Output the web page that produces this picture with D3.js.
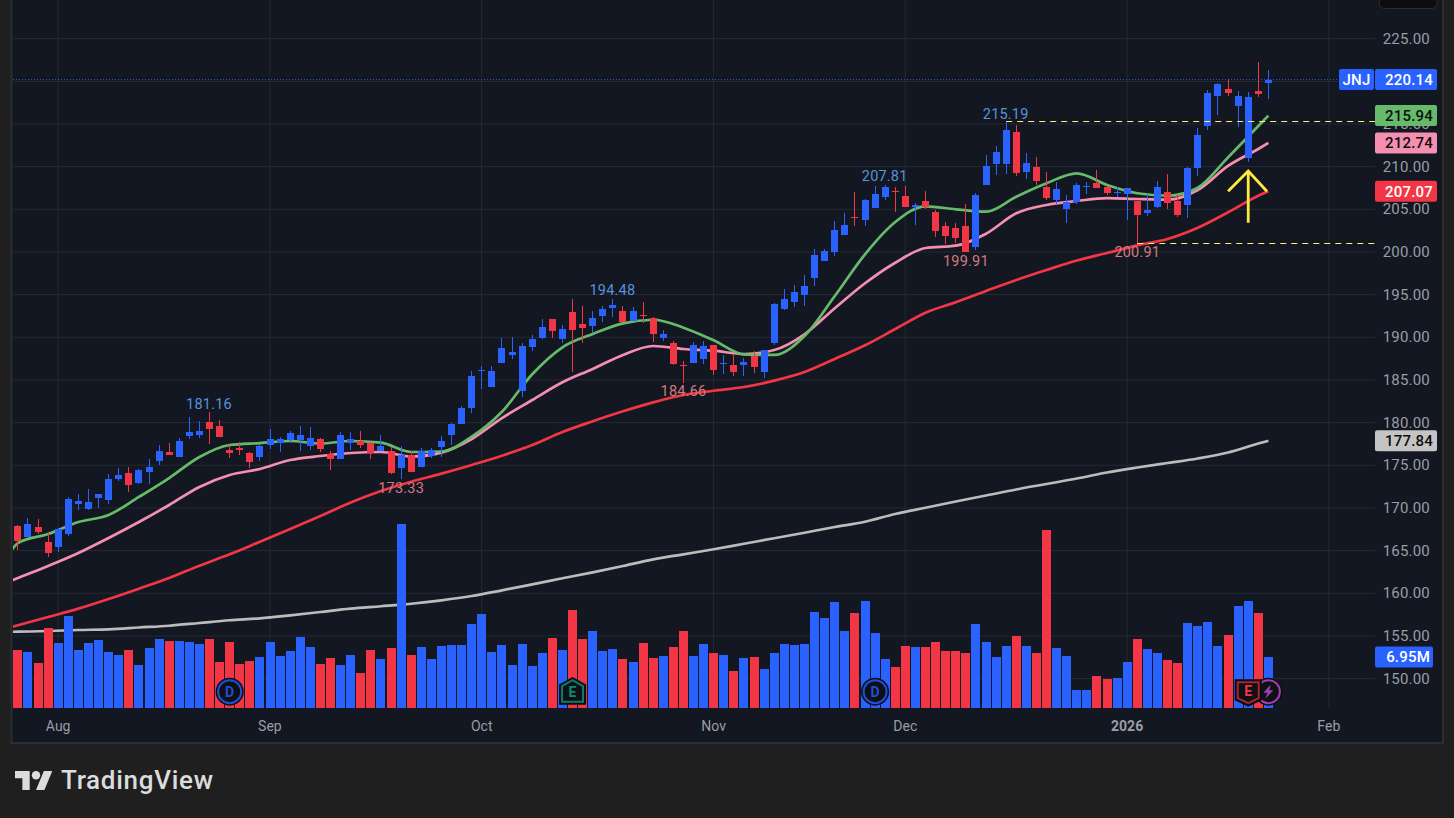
<!DOCTYPE html>
<html>
<head>
<meta charset="utf-8">
<script src="https://cdn.jsdelivr.net/npm/d3@7"></script>
<style>
html,body{margin:0;padding:0;background:#1f1f1f;overflow:hidden}
svg{display:block}
text{font-family:Roboto,"Liberation Sans",sans-serif}
.price-axis path,.time-axis path{display:none}
.price-axis line,.time-axis line{stroke:#252933;stroke-width:1}
.price-axis text,.time-axis text{fill:#9a9da6}
</style>
</head>
<body>
<svg id="chart" width="1454" height="818"></svg>
<script>
const symbol = "JNJ";
const opens = [
167.84,166.55,167.73,165.97,165.38,166.91,170.42,169.84,171.12,170.89,
173.35,174.05,172.88,174.17,175.46,176.52,175.93,178.39,178.51,180.03,
179.56,176.75,176.99,176.40,175.93,177.34,177.57,177.93,177.93,177.22,
178.04,176.28,175.70,177.57,177.81,177.57,176.63,176.63,174.64,176.17,
174.76,176.05,177.10,178.51,179.80,181.67,186.01,184.14,186.95,187.89,
183.67,188.82,189.88,192.11,189.76,192.93,191.52,191.29,192.46,193.39,
193.04,191.87,192.57,192.22,189.88,189.29,186.71,186.95,187.42,189.06,
186.83,186.71,186.71,187.77,185.89,189.29,193.28,194.10,194.92,196.91,
198.90,199.96,201.95,204.06,203.71,205.11,206.40,207.10,206.52,205.27,
205.93,204.64,203.00,202.77,203.00,200.55,207.81,210.27,210.27,214.02,
209.33,209.92,207.57,206.05,205.00,205.82,207.57,208.04,207.57,206.87,
206.75,205.93,204.53,205.23,206.99,205.93,205.46,209.80,214.72,218.24,
219.06,217.07,210.97,218.83,219.76];
const highs = [
167.96,168.78,168.67,167.10,167.61,171.24,171.59,172.18,171.59,173.94,
174.64,174.76,174.52,175.70,177.34,177.57,178.16,180.62,180.15,181.16,
180.27,177.34,177.69,176.52,177.34,179.21,178.27,178.98,179.56,179.45,
178.16,176.63,178.86,178.86,178.98,177.69,178.51,177.10,177.22,176.63,
176.99,176.99,178.39,179.92,181.91,186.01,186.60,186.60,189.88,189.99,
189.29,190.23,192.11,192.11,191.40,194.45,193.63,193.04,193.63,194.48,
193.63,193.51,194.10,192.34,190.82,189.53,187.18,189.41,189.53,189.06,
187.89,187.89,187.54,188.36,188.47,193.98,195.62,196.09,197.26,200.31,
200.31,203.59,204.53,206.99,206.17,207.70,207.81,207.57,207.70,205.70,
207.10,204.88,203.47,203.36,205.58,206.87,211.33,212.38,215.19,214.84,
211.56,211.09,209.33,208.16,206.64,208.04,208.16,209.57,207.69,207.57,
207.46,205.93,206.75,208.28,209.10,206.75,209.92,214.49,218.94,219.76,
220.23,218.83,218.71,222.22,221.29];
const lows = [
165.03,166.55,166.87,164.24,164.83,166.71,169.75,169.75,169.95,170.46,
173.12,171.86,172.76,172.76,175.00,176.17,175.93,178.04,178.16,177.46,
178.27,175.81,176.17,174.64,175.46,176.87,176.52,177.57,176.63,176.75,
176.52,174.41,175.70,176.75,176.99,175.70,176.63,173.94,173.33,174.17,
174.76,175.81,175.93,177.34,179.80,181.09,183.90,184.14,186.95,187.42,
182.97,188.36,189.76,189.88,189.29,185.89,189.29,190.47,191.76,192.34,
191.76,191.87,191.64,189.41,189.53,186.71,184.66,186.95,186.83,185.54,
185.66,185.43,185.43,185.78,185.19,189.06,193.16,193.51,193.63,195.97,
198.90,199.49,201.95,203.00,203.00,205.11,206.05,204.64,205.23,203.12,
205.00,201.72,200.90,201.01,199.91,200.19,207.81,208.98,209.10,208.86,
208.51,207.81,206.05,205.58,203.36,205.58,206.75,207.46,206.64,206.40,
203.71,200.91,204.18,205.11,205.00,204.06,203.94,208.86,214.25,216.01,
218.24,214.61,210.50,218.12,217.89];
const closes = [
166.09,168.08,167.10,164.72,167.49,171.01,170.77,170.66,171.59,173.35,
173.82,172.66,174.41,174.76,176.63,176.17,177.81,178.86,178.98,179.22,
178.27,176.40,176.79,175.35,177.22,178.04,178.04,178.74,178.51,178.16,
176.87,175.70,178.51,178.04,177.34,176.40,177.22,174.05,176.17,174.17,
176.63,176.75,177.81,179.80,181.67,185.43,186.13,186.01,188.71,188.24,
188.94,189.76,191.17,190.70,190.93,190.82,191.05,192.22,193.28,193.75,
191.76,193.04,192.46,190.35,190.35,186.83,186.60,189.06,188.94,186.13,
186.95,185.89,187.07,186.48,188.47,193.87,194.45,195.27,195.97,199.61,
200.07,202.53,203.12,203.94,206.05,206.75,207.57,206.99,205.23,205.46,
205.23,202.42,201.83,201.60,199.91,206.64,210.04,211.68,214.25,209.21,
210.39,208.28,206.29,207.34,205.82,207.81,207.69,207.46,206.87,206.99,
207.46,204.29,204.88,207.57,205.70,204.29,209.80,213.67,218.59,219.65,
218.59,218.24,218.12,218.47,220.14];
const volumes = [
7.91,7.64,6.14,10.91,8.86,12.55,7.91,8.86,9.27,7.64,
7.23,7.91,5.86,8.18,9.41,9.14,9.14,9.0,8.73,9.41,
6.27,9.0,6.0,6.41,6.95,9.0,7.09,7.77,9.68,8.32,
6.0,6.82,5.86,7.23,4.77,7.91,6.68,8.18,25.09,7.23,
8.32,6.68,8.45,8.59,8.59,11.45,12.82,7.64,8.59,5.86,
8.73,5.73,7.5,9.55,7.91,13.36,9.41,10.5,7.77,8.05,
6.68,6.27,8.86,6.82,7.09,8.32,10.5,7.09,8.73,7.5,
7.23,5.05,6.82,6.95,5.32,7.5,8.73,8.59,8.73,13.09,
12.27,14.45,10.5,12.95,14.59,10.23,6.68,5.59,8.45,8.32,
8.32,9.0,7.77,7.77,7.5,11.45,9.0,6.95,8.45,9.82,
8.45,7.5,24.27,8.18,7.09,2.45,2.45,4.36,3.95,4.09,
6.27,9.41,8.05,7.5,6.55,6.14,11.59,11.18,11.73,8.45,
9.95,13.91,14.59,12.95,6.95];

// Moving-average readings, taken every third bar off the picture
const maBars = [-1,0,3,6,9,12,15,18,21,24,27,30,33,36,39,42,45,48,51,54,57,60,63,66,69,72,75,78,81,84,87,90,93,96,99,102,105,108,111,114,117,120,123,124];
const maFast = [164.33,165.85,166.91,168.31,169.14,171.25,173.47,175.93,177.34,177.57,177.81,177.51,177.81,177.61,176.52,176.58,178.31,181.24,185.63,188.79,190.35,191.60,192.02,191.09,189.61,187.97,187.89,190.11,194.80,199.69,203.47,205.31,204.96,204.68,206.44,208.01,209.18,207.81,206.84,206.55,207.49,211.05,214.72,215.94];
const maMid = [161.28,161.75,163.16,164.68,166.44,168.31,170.31,172.42,173.82,174.53,175.58,176.05,176.40,176.52,175.99,176.44,178.04,180.50,182.61,184.69,186.25,187.89,188.94,188.59,188.39,188.00,188.47,190.31,193.36,196.29,198.70,200.43,200.70,202.10,204.49,205.47,205.93,206.28,206.17,206.09,207.22,210.04,212.03,212.74];
const maSlow = [155.89,156.21,157.18,158.16,159.29,160.50,161.75,163.20,164.53,166.01,167.50,169.02,170.60,171.95,173.04,173.98,175.00,176.09,177.34,178.86,180.12,181.29,182.34,183.20,183.70,184.14,184.88,185.89,187.42,189.02,190.93,192.84,194.06,195.39,196.68,197.85,198.96,199.84,200.74,201.48,202.80,204.61,206.55,207.07];
const maLong = [155.45,155.46,155.54,155.66,155.74,155.95,156.16,156.48,156.80,157.03,157.38,157.77,158.16,158.44,158.74,159.14,159.64,160.31,161.01,161.72,162.42,163.16,163.94,164.53,165.12,165.77,166.41,167.06,167.73,168.35,169.25,169.99,170.72,171.42,172.13,172.77,173.41,174.12,174.70,175.23,175.76,176.46,177.51,177.84];

const priceTicks = [150,155,160,165,170,175,180,185,190,195,200,205,210,215,225];
const monthBars = [4,25,46,69,88,110,130];
const monthLabels = ["Aug","Sep","Oct","Nov","Dec","2026","Feb"];

const highBars = [19,59,86,98];
const highValues = [181.16,194.48,207.81,215.19];
const lowBars = [38,66,94,111];
const lowValues = [173.33,184.66,199.91,200.91];

const levelBars = [98,111];
const levelValues = [215.19,200.91];

const arrowBars = [120,122,123.85];
const arrowPrices = [203.39,207.08,209.45];

const dividendBars = [21,85];
const earningsUpBars = [55];
const earningsDownBars = [122];
const splitBars = [124];

const lastVolume = 6.95;

// colours and layout
const BLUE="#2962ff", RED="#f23645", GREEN="#66bb6a", PINK="#f48fb1", GREY="#c4c4c4", GREYLINE="#bcbcbc", YEL="#ffeb3b";
const BG="#131722";
const L=13, R=1441, AXIS_X=1375, TOP=0, VOL_BASE=708, PANE_BOTTOM=742;

const x = d3.scaleLinear().domain([0,124]).range([17.9,1268.4]);
const y = d3.scaleLinear().domain([150,225]).range([678.3,38.3]);
const yVol = d3.scaleLinear().domain([0,25.09]).range([VOL_BASE,524]);
const px = i => Math.floor(x(i));

const svg = d3.select("#chart");
svg.append("rect").attr("width",1454).attr("height",818).attr("fill","#1f1f1f");
svg.append("rect").attr("x",L-1.5).attr("y",-3).attr("width",R-L+3.5).attr("height",PANE_BOTTOM+4)
  .attr("fill",BG).attr("stroke","#2b2d33").attr("stroke-width",2);

svg.append("clipPath").attr("id","plot").append("rect").attr("x",L).attr("y",0).attr("width",AXIS_X-L).attr("height",VOL_BASE);

// grid + axes
const priceAxis = d3.axisRight(y).tickValues(priceTicks).tickSize(AXIS_X-L).tickPadding(10).tickFormat(d3.format(".2f"));
const pa = svg.append("g").attr("class","price-axis").attr("transform",`translate(${L},0)`).call(priceAxis);
pa.selectAll("text").attr("font-size",15).attr("x",AXIS_X-L+55).attr("text-anchor","end").attr("letter-spacing",0.2);
pa.selectAll("line").attr("transform","translate(0,-0.2)");
// the 220 gridline stays, its label sits behind the last-price tag in the picture
pa.append("line").attr("x1",0).attr("x2",AXIS_X-L).attr("y1",Math.round(y(220))+0.5).attr("y2",Math.round(y(220))+0.5);

const timeAxis = d3.axisBottom(x).tickValues(monthBars).tickSize(VOL_BASE).tickPadding(10)
  .tickFormat((d,i)=>monthLabels[i]);
const ta = svg.append("g").attr("class","time-axis").attr("transform","translate(-0.6,0)").call(timeAxis);
ta.selectAll("text").attr("font-size",14).attr("y",VOL_BASE+13)
  .attr("font-weight",d=>d===110?700:400);

const plot = svg.append("g").attr("clip-path","url(#plot)");

// dotted last-price line
plot.append("line").attr("x1",L).attr("x2",AXIS_X).attr("y1",Math.floor(y(closes[124]))+0.5).attr("y2",Math.floor(y(closes[124]))+0.5)
  .attr("stroke",BLUE).attr("stroke-opacity",0.85).attr("stroke-dasharray","1 2");

// moving averages
const maLine = d3.line().x((d,i)=>x(maBars[i])).y(d=>y(d)).curve(d3.curveMonotoneX);
[[maLong,GREYLINE],[maSlow,RED],[maMid,PINK],[maFast,GREEN]].forEach(([s,c])=>{
  plot.append("path").attr("d",maLine(s)).attr("fill","none").attr("stroke",c).attr("stroke-width",2.7);
});

const isUp = i => closes[i] >= opens[i];
const colour = i => isUp(i) ? BLUE : RED;
const bars = d3.range(volumes.length);

// volume
plot.append("g").selectAll("rect").data(bars).join("rect")
  .attr("x",i=>px(i)-4).attr("width",9)
  .attr("y",i=>yVol(volumes[i])).attr("height",i=>VOL_BASE-yVol(volumes[i]))
  .attr("fill",colour).attr("shape-rendering","crispEdges");

// candles
const candles = plot.append("g").attr("shape-rendering","crispEdges");
candles.selectAll("rect.w").data(bars).join("rect").attr("class","w")
  .attr("x",i=>px(i)).attr("width",1)
  .attr("y",i=>y(highs[i])).attr("height",i=>y(lows[i])-y(highs[i]))
  .attr("fill",colour);
candles.selectAll("rect.b").data(bars).join("rect").attr("class","b")
  .attr("x",i=>px(i)-3).attr("width",7)
  .attr("y",i=>y(Math.max(opens[i],closes[i])))
  .attr("height",i=>Math.max(1,Math.abs(y(opens[i])-y(closes[i]))))
  .attr("fill",colour);

// dashed high / low levels
levelBars.forEach((b,k)=>{
  svg.append("line").attr("x1",x(b)).attr("x2",AXIS_X)
    .attr("y1",Math.round(y(levelValues[k]))-0.5).attr("y2",Math.round(y(levelValues[k]))-0.5)
    .attr("stroke","#fff176").attr("stroke-width",1.2).attr("stroke-dasharray","6 5");
});

// hi / lo labels
const hl = svg.append("g").attr("font-size",14.5).attr("text-anchor","middle").attr("dominant-baseline","central").attr("letter-spacing",0.2);
highBars.forEach((b,k)=>hl.append("text").attr("x",x(b)-0.5).attr("y",y(highValues[k])-8).attr("fill","#5693dc").text(highValues[k].toFixed(2)));
lowBars.forEach((b,k)=>hl.append("text").attr("x",x(b)).attr("y",y(lowValues[k])+9).attr("fill","#d27a7f").text(lowValues[k].toFixed(2)));

// yellow arrow
const ar = svg.append("g").attr("fill","none").attr("stroke",YEL).attr("stroke-width",2.8);
ar.append("line").attr("x1",x(arrowBars[1])).attr("x2",x(arrowBars[1])).attr("y1",y(arrowPrices[0])).attr("y2",y(arrowPrices[2]));
ar.append("path").attr("d",d3.line()([[x(arrowBars[0]),y(arrowPrices[1])],[x(arrowBars[1]),y(arrowPrices[2])],[x(arrowBars[2]),y(arrowPrices[1])]]));

// event markers
const MY = 691.7, INK="#0e1014";
const mk = svg.append("g").attr("text-anchor","middle").attr("dominant-baseline","central");
function letter(g,cx,cy,t,c){g.append("text").attr("x",cx).attr("y",cy).attr("fill",c).attr("font-size",14).attr("font-weight",700).text(t);}
dividendBars.forEach(b=>{
  const cx=x(b);
  mk.append("circle").attr("cx",cx).attr("cy",MY).attr("r",14).attr("fill","#0b0d12");
  mk.append("circle").attr("cx",cx).attr("cy",MY).attr("r",11.5).attr("fill",INK).attr("stroke","#1d4fd8").attr("stroke-width",2);
  letter(mk,cx,MY,"D","#1d4fd8");
});
const pts = (cx,cy,a)=>a.map(p=>[cx+p[0],cy+p[1]].join(",")).join(" ");
splitBars.forEach(b=>{
  const cx=x(b);
  mk.append("circle").attr("cx",cx).attr("cy",MY).attr("r",14).attr("fill","#0b0d12");
  mk.append("circle").attr("cx",cx).attr("cy",MY).attr("r",11.5).attr("fill",INK).attr("stroke","#9c3fb5").attr("stroke-width",2);
  mk.append("polygon").attr("points",pts(cx,MY,[[2,-7],[-5,1],[-1,1],[-3,7],[5,-1.5],[1,-1.5]])).attr("fill","#9c3fb5");
});
earningsUpBars.forEach(b=>{
  const cx=x(b);
  mk.append("polygon").attr("points",pts(cx,MY,[[0,-13.5],[12.5,-6.5],[12.5,12],[-12.5,12],[-12.5,-6.5]]))
    .attr("fill",INK).attr("stroke","#0b0d12").attr("stroke-width",2);
  mk.append("polygon").attr("points",pts(cx,MY,[[0,-11.5],[10.5,-5.5],[10.5,10],[-10.5,10],[-10.5,-5.5]]))
    .attr("fill",INK).attr("stroke","#0b7d6a").attr("stroke-width",2);
  letter(mk,cx,MY,"E","#0b8a74");
});
earningsDownBars.forEach(b=>{
  const cx=x(b);
  mk.append("polygon").attr("points",pts(cx,MY,[[-12.5,-11.5],[12.5,-11.5],[12.5,8],[0,14],[-12.5,8]]))
    .attr("fill",INK).attr("stroke","#0b0d12").attr("stroke-width",2);
  mk.append("polygon").attr("points",pts(cx,MY,[[-10.5,-9.5],[10.5,-9.5],[10.5,6.5],[0,11.5],[-10.5,6.5]]))
    .attr("fill",INK).attr("stroke","#a8242f").attr("stroke-width",2);
  letter(mk,cx,MY-0.5,"E",RED);
});

// price tags
function tag(x0,w,yc,fill,txt,txtFill,anchorX,anchor){
  svg.append("rect").attr("x",x0).attr("y",yc-10.5).attr("width",w).attr("height",21).attr("rx",2).attr("fill",fill);
  svg.append("text").attr("x",anchorX).attr("y",yc+0.3).attr("dominant-baseline","central")
    .attr("text-anchor",anchor).attr("font-size",15).attr("font-weight",500).attr("letter-spacing",0.2)
    .attr("fill",txtFill).text(txt);
}
const lastOf = s => s[s.length-1];
tag(1339,35,y(closes[124])-0.3,BLUE,symbol,"#fff",1356.5,"middle");
tag(1375,62,y(closes[124])-0.3,BLUE,closes[124].toFixed(2),"#fff",1433,"end");
tag(1375,62,y(lastOf(maFast)),GREEN,lastOf(maFast).toFixed(2),"#0d0d0d",1433,"end");
tag(1375,62,y(lastOf(maMid)),PINK,lastOf(maMid).toFixed(2),"#0d0d0d",1433,"end");
tag(1375,62,y(lastOf(maSlow)),RED,lastOf(maSlow).toFixed(2),"#fff",1433,"end");
tag(1375,62,y(lastOf(maLong)),GREY,lastOf(maLong).toFixed(2),"#0d0d0d",1433,"end");
tag(1375,58,yVol(lastVolume)+0,BLUE,lastVolume.toFixed(2)+"M","#fff",1430,"end");

// top-right button stub
svg.append("rect").attr("x",1379.5).attr("y",-10).attr("width",57.5).attr("height",18.5).attr("rx",5)
  .attr("fill","#0d0d0f").attr("stroke","#2b2d33");

// logo
const logo = svg.append("g").attr("transform","translate(15,766.8) scale(1.05)").attr("fill","#dcdcdc");
logo.append("path").attr("d","M14 22H7V11H0V4h14v18zM28 22h-8l7.5-18h8L28 22z");
logo.append("circle").attr("cx",20).attr("cy",8).attr("r",4);
svg.append("text").attr("x",61).attr("y",789).attr("fill","#dcdcdc").attr("font-size",26)
  .attr("font-family","Inter, Roboto, sans-serif").attr("font-weight",500).attr("textLength",152).text("TradingView");
</script>
</body>
</html>
